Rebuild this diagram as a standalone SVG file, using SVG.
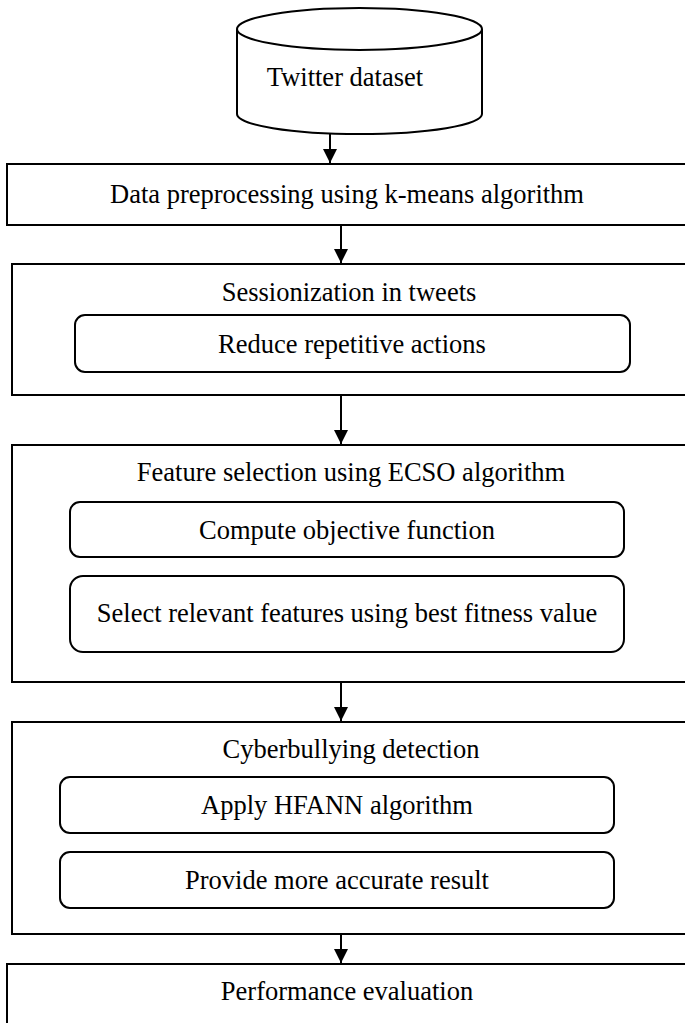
<svg xmlns="http://www.w3.org/2000/svg" width="685" height="1023" viewBox="0 0 685 1023">
<style>
.box{fill:#fff;stroke:#000;stroke-width:2}
.inner{fill:#fff;stroke:#000;stroke-width:2}
.t{font-family:"Liberation Serif","Times New Roman",serif;font-size:26.5px;fill:#000;text-anchor:middle}
.c{stroke:#000;stroke-width:2;fill:none}
</style>
<defs>
<marker id="ah" markerWidth="16" markerHeight="16" refX="14" refY="7" orient="auto" markerUnits="userSpaceOnUse">
<path d="M0,0 L14,7 L0,14 Z" fill="#000"/>
</marker>
</defs>
<rect width="685" height="1023" fill="#fff"/>
<g id="connectors">
<line class="c" x1="330" y1="134" x2="330" y2="163" marker-end="url(#ah)"/>
<line class="c" x1="341" y1="225" x2="341" y2="263" marker-end="url(#ah)"/>
<line class="c" x1="341" y1="395" x2="341" y2="444" marker-end="url(#ah)"/>
<line class="c" x1="341" y1="682" x2="341" y2="721" marker-end="url(#ah)"/>
<line class="c" x1="341" y1="934" x2="341" y2="963" marker-end="url(#ah)"/>
</g>
<g id="dataset">
<path class="box" d="M237,29 L237,114 A122.5,20 0 0 0 482,114 L482,29"/>
<ellipse class="box" cx="359.5" cy="29" rx="122.5" ry="21"/>
<text class="t" x="345" y="86">Twitter dataset</text>
</g>
<g id="preprocessing">
<rect class="box" x="7" y="164" width="690" height="61"/>
<text class="t" x="347" y="203">Data preprocessing using k-means algorithm</text>
</g>
<g id="sessionization">
<rect class="box" x="12" y="264" width="690" height="131"/>
<text class="t" x="349" y="301">Sessionization in tweets</text>
<g id="reduce">
<rect class="inner" x="75" y="315" width="555" height="57" rx="10"/>
<text class="t" x="352" y="353">Reduce repetitive actions</text>
</g>
</g>
<g id="featureselection">
<rect class="box" x="12" y="445" width="690" height="237"/>
<text class="t" x="351" y="481">Feature selection using ECSO algorithm</text>
<g id="objective">
<rect class="inner" x="70" y="502" width="554" height="55" rx="10"/>
<text class="t" x="347" y="539">Compute objective function</text>
</g>
<g id="select">
<rect class="inner" x="70" y="576" width="554" height="76" rx="13"/>
<text class="t" x="347" y="622">Select relevant features using best fitness value</text>
</g>
</g>
<g id="detection">
<rect class="box" x="12" y="722" width="690" height="212"/>
<text class="t" x="351" y="758">Cyberbullying detection</text>
<g id="hfann">
<rect class="inner" x="60" y="777" width="554" height="56" rx="10"/>
<text class="t" x="337" y="814">Apply HFANN algorithm</text>
</g>
<g id="accurate">
<rect class="inner" x="60" y="852" width="554" height="56" rx="10"/>
<text class="t" x="337" y="889">Provide more accurate result</text>
</g>
</g>
<g id="evaluation">
<rect class="box" x="7" y="964" width="690" height="70"/>
<text class="t" x="347" y="1000">Performance evaluation</text>
</g>
</svg>
